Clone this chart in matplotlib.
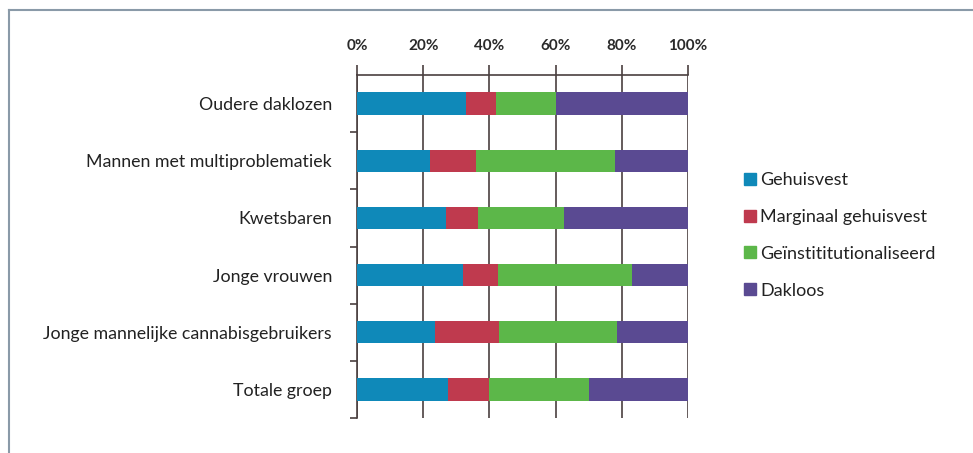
import matplotlib
matplotlib.use("Agg")
import matplotlib.pyplot as plt
from matplotlib.lines import Line2D
import numpy as np

plt.rcParams['font.family'] = ['Lato', 'DejaVu Sans']

# groepen (van boven naar beneden)
groepen = ['Oudere daklozen', 'Mannen met multiproblematiek', 'Kwetsbaren',
           'Jonge vrouwen', 'Jonge mannelijke cannabisgebruikers', 'Totale groep']
gehuisvest = [33, 22, 27, 32, 23.5, 27.5]
marginaal = [9, 14, 9.5, 10.5, 19.5, 12.5]
geinst = [18, 42, 26, 40.5, 35.5, 30]
dakloos = [40, 22, 37.5, 17, 21.5, 30]

series = ['Gehuisvest', 'Marginaal gehuisvest', 'Geïnstititutionaliseerd', 'Dakloos']
kleuren = ['#0f89b9', '#bf3a4e', '#5cb749', '#5a4a92']
ticklabels = ['0%', '20%', '40%', '60%', '80%', '100%']

fig = plt.figure(figsize=(9.73, 4.53), dpi=100)
ax = fig.add_axes([357/973, 35/453, 331/973, 343/453])

y = np.arange(len(groepen))
left = np.zeros(len(groepen))
for waarden, kleur in zip([gehuisvest, marginaal, geinst, dakloos], kleuren):
    ax.barh(y, waarden, left=left, height=0.39, color=kleur, zorder=3)
    left += np.array(waarden)

ax.set_xlim(0, 100)
ax.set_ylim(len(groepen) - 0.5, -0.5)
ax.set_xticks(np.arange(0, 101, 20))
ax.set_xticklabels(ticklabels)
ax.xaxis.tick_top()
ax.tick_params(axis='x', length=7, width=1.2, color='#4a4040', pad=9,
               labelsize=11, labelcolor='#2a2a2a')
for t in ax.get_xticklabels():
    t.set_fontweight('bold')
ax.grid(axis='x', color='#4a4040', linewidth=1.2, zorder=1)

ax.set_yticks(y)
ax.set_yticklabels(groepen)
ax.tick_params(axis='y', length=0, pad=18, labelsize=12.8, labelcolor='#222222')
ax.set_yticks(np.arange(0.5, len(groepen)), minor=True)
ax.tick_params(axis='y', which='minor', length=5, width=1.2, color='#4a4040')

for s in ['right', 'bottom']:
    ax.spines[s].set_visible(False)
ax.spines['top'].set_color('#4a4040')
ax.spines['top'].set_linewidth(1.2)
ax.spines['left'].set_color('#4a4040')
ax.spines['left'].set_linewidth(1.2)

handles = [Line2D([], [], marker='s', linestyle='', markersize=8,
                  markerfacecolor=k, markeredgecolor=k) for k in kleuren]
fig.legend(handles, series, loc='upper left', bbox_to_anchor=(725/973, 1 - 156/453),
           frameon=False, fontsize=13, labelspacing=1.15, handlelength=1.0,
           handletextpad=0.05, labelcolor='#222222')

# kader
fig.add_artist(Line2D([9/973, 9/973], [0, 1 - 10/453], transform=fig.transFigure,
                      color='#8a9aa8', linewidth=1.5))
fig.add_artist(Line2D([9/973, 1], [1 - 10/453, 1 - 10/453], transform=fig.transFigure,
                      color='#8a9aa8', linewidth=1.5))

fig.savefig('out.png', dpi=100)
